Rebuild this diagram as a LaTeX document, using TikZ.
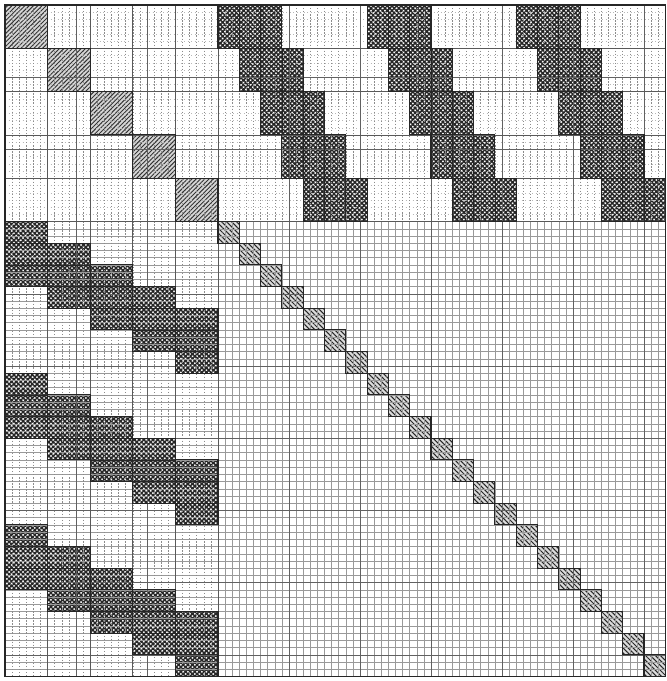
\documentclass[tikz,border=0pt]{standalone}
\usetikzlibrary{patterns.meta}

\tikzset{
  bigblock/.style={preaction={fill=black!16}, pattern={Lines[angle=45,distance=2.6pt,line width=0.8pt]}, pattern color=black!80},
  smallblock/.style={preaction={fill=black!14}, pattern={Lines[angle=-45,distance=3pt,line width=0.9pt]}, pattern color=black!85},
  coupleblock/.style={pattern={Hatch[angle=45,distance=2.8pt,line width=1.3pt]}, pattern color=black!85},
  blockedge/.style={draw=black!85, line width=0.9pt},
  fineline/.style={black!40, line width=0.35pt},
  dotline/.style={black!45, line width=0.4pt, dash pattern=on 1.2pt off 1.4pt},
  faintline/.style={black!28, line width=0.3pt, dash pattern=on 0.6pt off 2.4pt},
  tenline/.style={black!62, line width=0.5pt},
  sixline/.style={black!65, line width=0.55pt}
}

\begin{document}
\begin{tikzpicture}[x=0.213cm, y=-0.2166cm]

  \useasboundingbox (-0.704,-0.6925) rectangle (93.24,93.63);
  \fill[white] (-0.704,-0.6925) rectangle (93.24,93.63);

  % large diagonal blocks (6x6)
  \foreach \k in {0,...,4}
    \fill[bigblock] ({6*\k},{6*\k}) rectangle ++(6,6);

  % small diagonal blocks (3x3)
  \foreach \k in {0,...,20}
    \fill[smallblock] ({30+3*\k},{30+3*\k}) rectangle ++(3,3);

  % coupling blocks, upper right and lower left
  \foreach \g in {0,1,2}
    \foreach \j in {0,...,4} {
      \fill[coupleblock] ({30+21*\g+3*\j},{6*\j}) rectangle ++(9,6);
      \fill[coupleblock] ({6*\j},{30+21*\g+3*\j}) rectangle ++(6,9);
    }

  % fine grid
  \foreach \r in {1,...,29}
    \draw[faintline] (0,\r) -- (93,\r);
  \foreach \r in {31,...,92}
    \draw[fineline] (0,\r) -- (93,\r);
  \foreach \c in {1,...,29}
    \draw[dotline] (\c,0) -- (\c,93);
  \foreach \c in {31,...,92} {
    \draw[dotline] (\c,0) -- (\c,30);
    \draw[fineline] (\c,30) -- (\c,93);
  }

  % every tenth line
  \foreach \t in {10,20,...,90} {
    \draw[tenline] (0,\t) -- (93,\t);
    \draw[tenline] (\t,0) -- (\t,93);
  }

  % block boundaries of the first 30 unknowns
  \foreach \s in {6,12,...,30} {
    \draw[sixline] (0,\s) -- (93,\s);
    \draw[sixline] (\s,0) -- (\s,93);
  }

  % block outlines
  \foreach \k in {0,...,4}
    \draw[blockedge] ({6*\k},{6*\k}) rectangle ++(6,6);
  \foreach \k in {0,...,20}
    \draw[blockedge] ({30+3*\k},{30+3*\k}) rectangle ++(3,3);
  \foreach \g in {0,1,2}
    \foreach \j in {0,...,4} {
      \draw[blockedge] ({30+21*\g+3*\j},{6*\j}) rectangle ++(9,6);
      \draw[blockedge] ({6*\j},{30+21*\g+3*\j}) rectangle ++(6,9);
      \foreach \m in {1,2} {
        \draw[blockedge, line width=0.6pt] ({30+21*\g+3*\j+3*\m},{6*\j}) -- ++(0,6);
        \draw[blockedge, line width=0.6pt] ({6*\j},{30+21*\g+3*\j+3*\m}) -- ++(6,0);
      }
    }

  % frame
  \draw[black!85, line width=1pt] (0,0) rectangle (93,93);

\end{tikzpicture}
\end{document}
